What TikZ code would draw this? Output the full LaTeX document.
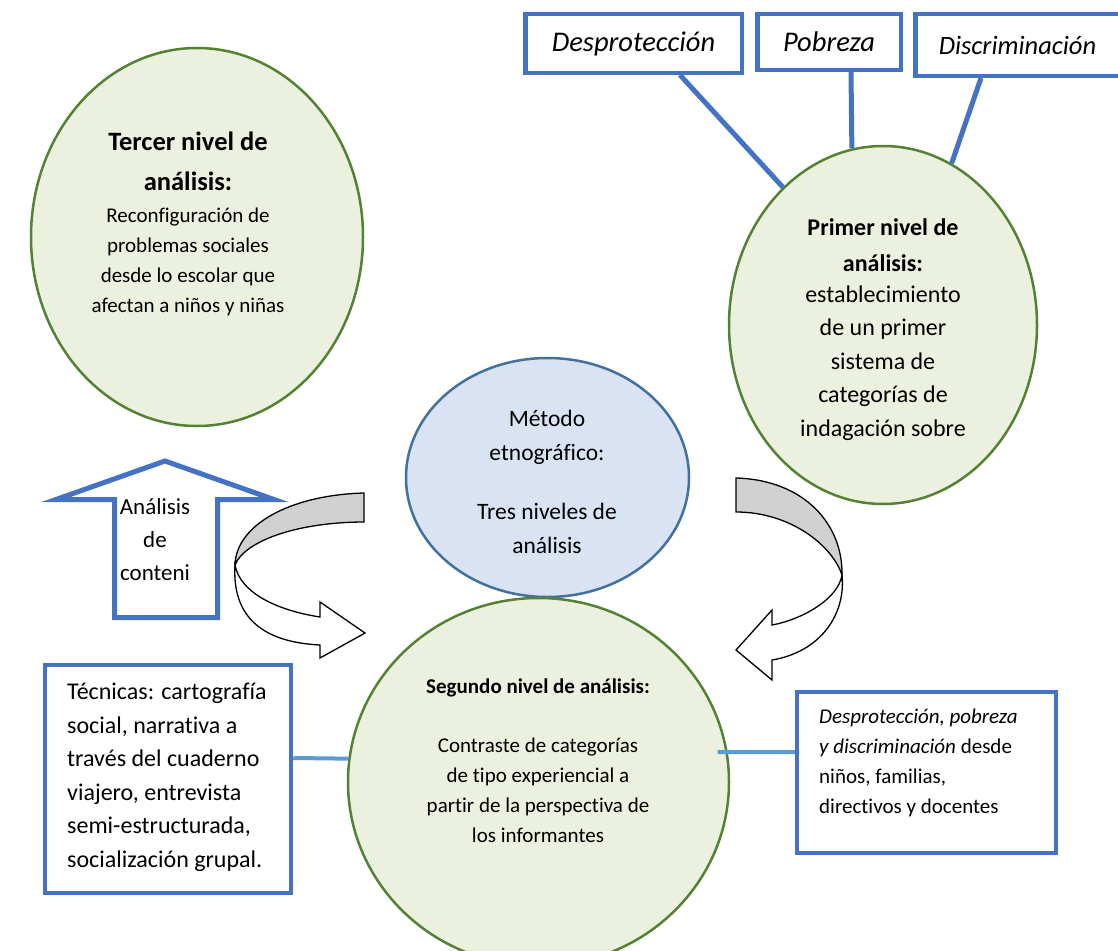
\documentclass[tikz,border=0pt]{standalone}
\usepackage{fontspec}
\setmainfont{Carlito}[Ligatures=NoCommon]
\usetikzlibrary{shapes.geometric}
\definecolor{greenfill}{RGB}{235,241,222}
\definecolor{greenline}{RGB}{84,130,53}
\definecolor{bluefill}{RGB}{218,227,243}
\definecolor{blueline}{RGB}{65,113,156}
\definecolor{boxblue}{RGB}{68,114,196}
\definecolor{lightblue}{RGB}{91,155,213}
\definecolor{bandgray}{RGB}{208,208,208}
\newcommand{\fsz}[2]{\fontsize{#1}{#2}\selectfont}
\begin{document}
\begin{tikzpicture}[x=1pt,y=-1pt,
  circ/.style={ellipse, draw=greenline, line width=2.5pt, fill=greenfill, inner sep=0pt},
  metodo/.style={ellipse, draw=blueline, line width=2.5pt, fill=bluefill, inner sep=0pt},
  bbox/.style={rectangle, draw=boxblue, line width=4.5pt, fill=white, inner sep=0pt},
  txt/.style={align=center, inner sep=0pt, text=black},
  topline/.style={draw=boxblue, line width=5pt},
  lowline/.style={draw=lightblue, line width=4pt},
  curvearrow/.style={draw=black, line width=1.3pt, line join=miter},
  uparrow/.style={draw=boxblue, line width=5pt, fill=white, line join=miter}]
\useasboundingbox (0,0) rectangle (1118,950);
\clip (0,0) rectangle (1118,950);
\fill[white] (0,0) rectangle (1118,950);

% circles
\node[circ, minimum width=332pt, minimum height=378pt] (tercer) at (197,237) {};
\node[circ, minimum width=308pt, minimum height=358pt] (primer) at (883,325) {};
\node[metodo, minimum width=283pt, minimum height=239pt] (metodo) at (547.5,477.5) {};
\node[circ, minimum width=381pt, minimum height=368pt] (segundo) at (538.5,782) {};

% circle texts
\node[txt, font=\bfseries\fsz{26.5}{40}] (tercerH) at (188,161) {Tercer nivel de\\análisis:};
\node[txt, font=\fsz{21}{30}] (tercerB) at (188,262) {Reconfiguración de\\problemas sociales\\desde lo escolar que\\afectan a niños y niñas};
\node[txt, font=\bfseries\fsz{24}{36}] (primerH) at (883,245) {Primer nivel de\\análisis:};
\node[txt, font=\fsz{24}{33.5}] (primerB) at (883,363) {establecimiento\\de un primer\\sistema de\\categorías de\\indagación sobre};
\node[txt, font=\fsz{23.5}{34.5}] (metodoT) at (547,482) {Método\\etnográfico:\\[24pt]Tres niveles de\\análisis};
\node[txt, font=\bfseries\fsz{21}{30}] (segundoH) at (538,688) {Segundo nivel de análisis:};
\node[txt, font=\fsz{21}{30}] (segundoB) at (538,790) {Contraste de categorías\\de tipo experiencial a\\partir de la perspectiva de\\los informantes};

% boxes
\node[bbox, minimum width=246pt, minimum height=228pt] (tec) at (168,779) {};
\node[txt, align=left, anchor=west, font=\fsz{24}{33.5}] (tecT) at (67,777.5) {Técnicas: cartografía\\social, narrativa a\\través del cuaderno\\viajero, entrevista\\semi-estructurada,\\socialización grupal.};
\node[bbox, minimum width=259pt, minimum height=161pt] (rbox) at (926.5,772.5) {};
\node[txt, align=left, anchor=west, font=\fsz{21}{30}] (rboxT) at (819,763) {\textit{Desprotección, pobreza}\\\textit{y discriminación} desde\\niños, familias,\\directivos y docentes};

\node[bbox, minimum width=216.5pt, minimum height=58.5pt, font=\itshape\fsz{28.5}{32}] (desp) at (633.5,43.5) {Desprotección};
\node[bbox, minimum width=143.5pt, minimum height=55.5pt, font=\itshape\fsz{28.5}{32}] (pob) at (829,42) {Pobreza};
\node[bbox, minimum width=204.5pt, minimum height=61.5pt, font=\itshape\fsz{26.5}{32}] (disc) at (1017.5,45) {Discriminación};

% connectors
\draw[topline] ([xshift=46.5pt]desp.south) -- (primer.126);
\draw[topline] ([xshift=22pt]pob.south) -- (primer.100);
\draw[topline] ([xshift=-36.5pt]disc.south) -- (primer.67);
\draw[lowline] ([yshift=21pt]tec.east) -- (segundo.173);
\draw[lowline] ([xshift=-10pt]segundo.9) -- ([yshift=20.5pt]rbox.west);

% up arrow
\draw[uparrow] (165,461) -- (274,499.5) -- (217.5,499.5) -- (217.5,617.5) -- (114.5,617.5) -- (114.5,499.5) -- (56,499.5) -- cycle;
\node[txt, font=\fsz{23}{33}] (upT) at (155,540) {Análisis\\de\\conteni};

% left curved arrow
\filldraw[curvearrow, fill=bandgray] (364,493) .. controls (290,495) and (236,525) .. (235,565) .. controls (245,540) and (300,522) .. (364,522) -- cycle;
\filldraw[curvearrow, fill=white] (235,565) .. controls (232,615) and (260,642) .. (320,645) -- (320,658) -- (365,633) -- (320,602) -- (320,617) .. controls (275,610) and (240,592) .. (235,565) -- cycle;

% right curved arrow
\filldraw[curvearrow, fill=bandgray] (736,478) .. controls (805,480) and (843,525) .. (842,575) .. controls (832,545) and (790,512) .. (736,512) -- cycle;
\filldraw[curvearrow, fill=white] (842,575) .. controls (846,615) and (820,652) .. (772,660) -- (772,680) -- (736,650) -- (772,610) -- (772,625) .. controls (800,620) and (838,600) .. (842,575) -- cycle;
\end{tikzpicture}
\end{document}
